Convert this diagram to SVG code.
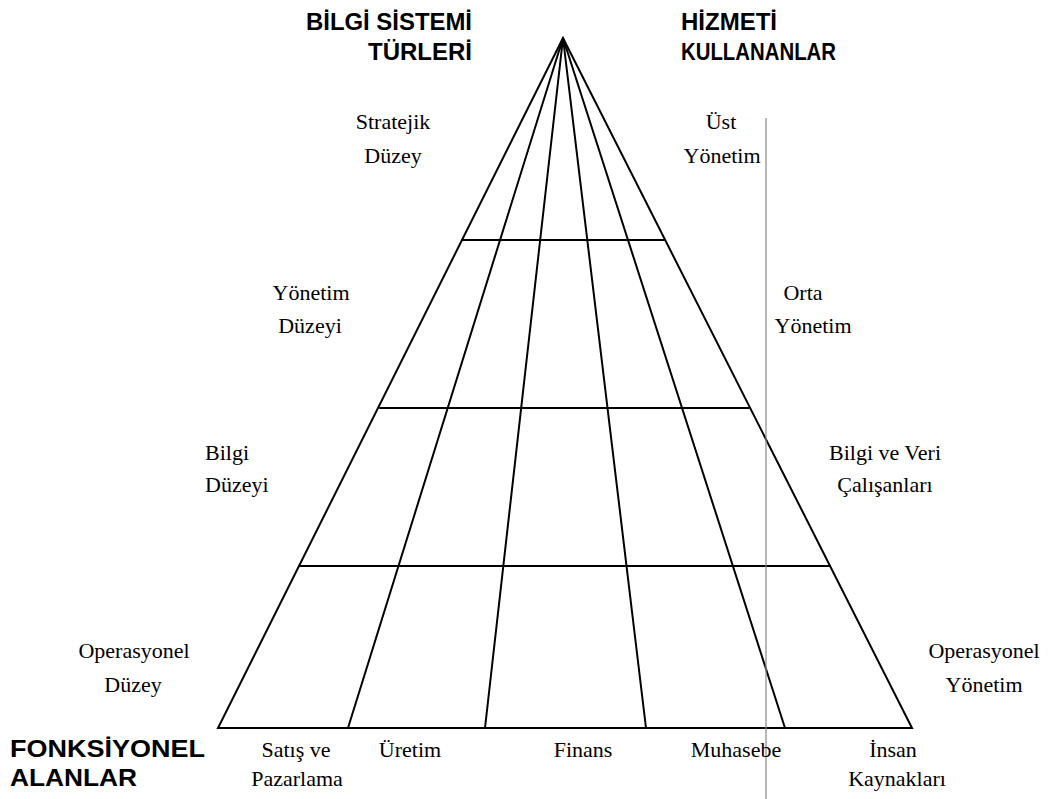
<svg xmlns="http://www.w3.org/2000/svg" width="1057" height="799" viewBox="0 0 1057 799">
<style>
.h{font-family:"Liberation Sans",Arial,sans-serif;font-weight:bold;font-size:24px;fill:#000}
.t{font-family:"Liberation Serif","Times New Roman",serif;font-size:22px;fill:#000;text-anchor:middle}
.s{text-anchor:start}
.ln{stroke:#000;stroke-width:2;fill:none;stroke-linecap:round}
.g{stroke:#888;stroke-width:1.2;fill:none}
</style>
<rect width="1057" height="799" fill="#fff"/>
<g id="connectors">
<path class="ln" d="M563,38 L218,728 L912,728 Z" stroke-linejoin="miter"/>
<path class="ln" d="M563,38 L348,728 M563,38 L485,728 M563,38 L646,728 M563,38 L785,728"/>
<path class="ln" d="M462,240 L664,240 M380,408 L749,408 M300,566 L830,566"/>
<path class="g" d="M766,118 L766,799"/>
</g>
<g id="title-left"><text class="h" x="472" y="30" text-anchor="end" textLength="166" lengthAdjust="spacingAndGlyphs">BİLGİ SİSTEMİ</text><text class="h" x="472" y="60" text-anchor="end">TÜRLERİ</text></g>
<g id="title-right"><text class="h" x="681" y="30">HİZMETİ</text><text class="h" x="681" y="60" textLength="155" lengthAdjust="spacingAndGlyphs">KULLANANLAR</text></g>
<g id="title-bottom"><text class="h" x="10" y="757" textLength="195" lengthAdjust="spacingAndGlyphs">FONKSİYONEL</text><text class="h" x="10" y="786" textLength="127" lengthAdjust="spacingAndGlyphs">ALANLAR</text></g>
<g id="level-strategic"><text class="t" x="393" y="129">Stratejik</text><text class="t" x="393" y="163">Düzey</text></g>
<g id="level-management"><text class="t" x="311" y="300">Yönetim</text><text class="t" x="310" y="333">Düzeyi</text></g>
<g id="level-knowledge"><text class="t s" x="205" y="460">Bilgi</text><text class="t s" x="205" y="492">Düzeyi</text></g>
<g id="level-operational"><text class="t" x="134" y="658">Operasyonel</text><text class="t" x="133" y="692">Düzey</text></g>
<g id="user-top"><text class="t" x="721" y="129">Üst</text><text class="t" x="722" y="163">Yönetim</text></g>
<g id="user-middle"><text class="t" x="803" y="300">Orta</text><text class="t" x="813" y="333">Yönetim</text></g>
<g id="user-knowledge"><text class="t" x="885" y="460">Bilgi ve Veri</text><text class="t" x="885" y="492">Çalışanları</text></g>
<g id="user-operational"><text class="t" x="984" y="658">Operasyonel</text><text class="t" x="984" y="692">Yönetim</text></g>
<g id="area-sales"><text class="t" x="296" y="757">Satış ve</text><text class="t" x="297" y="786">Pazarlama</text></g>
<g id="area-production"><text class="t" x="410" y="757">Üretim</text></g>
<g id="area-finance"><text class="t" x="583" y="757">Finans</text></g>
<g id="area-accounting"><text class="t" x="736" y="757">Muhasebe</text></g>
<g id="area-hr"><text class="t" x="893" y="757">İnsan</text><text class="t" x="897" y="786">Kaynakları</text></g>
</svg>
